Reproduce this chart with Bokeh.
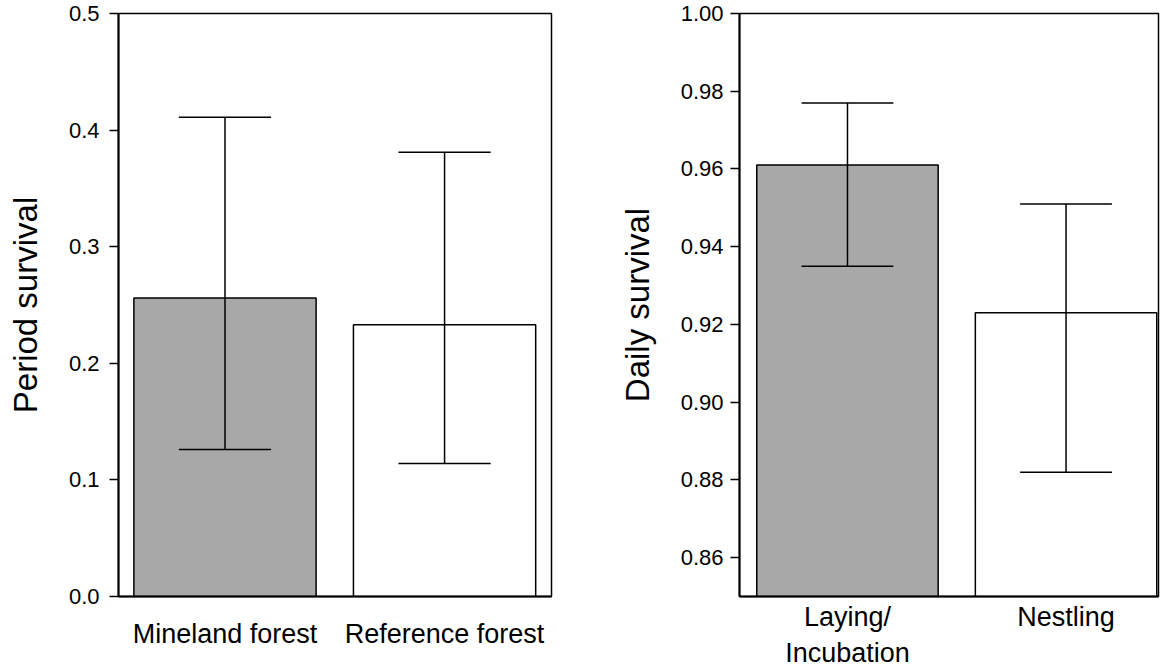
from bokeh.plotting import figure
from bokeh.layouts import row
from bokeh.models import Range1d, FixedTicker, NumeralTickFormatter, ColumnDataSource
from bokeh.embed import file_html
from bokeh.resources import INLINE

# ---- data ----
left_categories = ["Mineland forest", "Reference forest"]
left_values = [0.256, 0.233]
left_upper = [0.411, 0.381]
left_lower = [0.126, 0.114]
left_colors = ["#a8a8a8", "#ffffff"]
left_yticks = [0.0, 0.1, 0.2, 0.3, 0.4, 0.5]

right_categories = ["Laying/\nIncubation", "Nestling"]
right_values = [0.961, 0.923]
right_upper = [0.977, 0.951]
right_lower = [0.935, 0.882]
right_colors = ["#a8a8a8", "#ffffff"]
right_yticks = [0.86, 0.88, 0.90, 0.92, 0.94, 0.96, 0.98, 1.00]

FONT = "Liberation Sans"
BAR_W = 0.83
CAP_W = 0.42
HEIGHT = 670


def make_panel(cats, vals, up, lo, cols, yticks, yfmt, ylabel, y0, y1,
               xr, width, mbl, mbr, label_standoff, tick_standoff, xlab_standoff):
    xs = [i + 1 for i in range(len(cats))]
    p = figure(width=width, height=HEIGHT, output_backend="svg", toolbar_location=None,
               x_range=Range1d(*xr), y_range=Range1d(y0, y1),
               min_border_left=mbl, min_border_right=mbr,
               min_border_top=13, min_border_bottom=74)
    src = ColumnDataSource(dict(x=xs, top=vals, up=up, lo=lo, color=cols,
                                bottom=[y0] * len(xs),
                                cl=[x - CAP_W / 2 for x in xs],
                                cr=[x + CAP_W / 2 for x in xs]))
    p.vbar(x="x", top="top", bottom="bottom", width=BAR_W, fill_color="color",
           line_color="black", line_width=1.5, source=src)
    p.segment(x0="x", y0="lo", x1="x", y1="up", line_color="black", line_width=1.5, source=src)
    p.segment(x0="cl", y0="up", x1="cr", y1="up", line_color="black", line_width=1.5, source=src)
    p.segment(x0="cl", y0="lo", x1="cr", y1="lo", line_color="black", line_width=1.5, source=src)

    p.xgrid.visible = False
    p.ygrid.visible = False
    p.outline_line_color = "black"
    p.outline_line_width = 1.5
    p.background_fill_color = "white"
    p.border_fill_color = "white"

    # x axis
    p.xaxis.ticker = FixedTicker(ticks=xs)
    p.xaxis.major_label_overrides = {x: c for x, c in zip(xs, cats)}
    p.xaxis.major_tick_out = 0
    p.xaxis.major_tick_in = 0
    p.xaxis.minor_tick_out = 0
    p.xaxis.minor_tick_in = 0
    p.xaxis.axis_line_width = 2
    p.xaxis.axis_line_color = "black"
    p.xaxis.major_label_text_font = FONT
    p.xaxis.major_label_text_font_size = "27px"
    p.xaxis.major_label_text_color = "black"
    p.xaxis.major_label_standoff = xlab_standoff
    p.xaxis.major_label_text_line_height = 1.2

    # y axis
    p.yaxis.ticker = FixedTicker(ticks=yticks)
    p.yaxis.formatter = NumeralTickFormatter(format=yfmt)
    p.yaxis.major_tick_out = 9
    p.yaxis.major_tick_in = 0
    p.yaxis.minor_tick_out = 0
    p.yaxis.minor_tick_in = 0
    p.yaxis.major_tick_line_width = 1.5
    p.yaxis.axis_line_width = 2
    p.yaxis.axis_line_color = "black"
    p.yaxis.major_label_text_font = FONT
    p.yaxis.major_label_text_font_size = "22px"
    p.yaxis.major_label_text_color = "black"
    p.yaxis.major_label_standoff = tick_standoff
    p.yaxis.axis_label = ylabel
    p.yaxis.axis_label_text_font = FONT
    p.yaxis.axis_label_text_font_size = "33px"
    p.yaxis.axis_label_text_font_style = "normal"
    p.yaxis.axis_label_text_color = "black"
    p.yaxis.axis_label_standoff = label_standoff
    return p


left = make_panel(left_categories, left_values, left_upper, left_lower, left_colors,
                  left_yticks, "0.0", "Period survival", 0.0, 0.5,
                  (0.515, 2.487), 600, 118, 49, 22, 10, 22)
right = make_panel(right_categories, right_values, right_upper, right_lower, right_colors,
                   right_yticks, "0.00", "Daily survival", 0.85, 1.0,
                   (0.506, 2.423), 564, 139, 6, 22, 7, 5)

layout = row(left, right)
open("out.html", "w").write(file_html(layout, INLINE))
